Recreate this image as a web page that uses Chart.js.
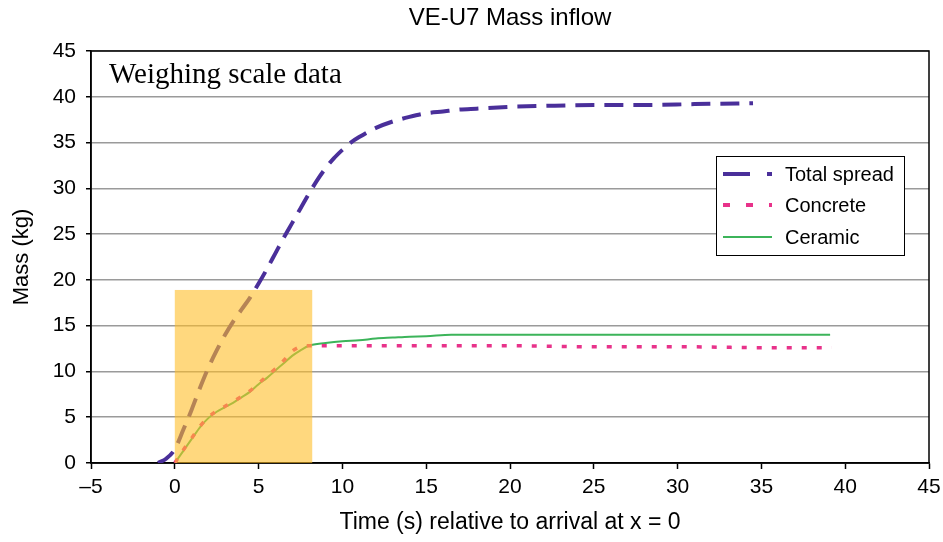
<!DOCTYPE html>
<html>
<head>
<meta charset="utf-8">
<title>VE-U7 Mass inflow</title>
<script src="https://cdn.jsdelivr.net/npm/chart.js@4.4.1/dist/chart.umd.min.js"></script>
<style>
  html, body { margin: 0; padding: 0; background: #fff; }
</style>
</head>
<body>
<canvas id="massChart" width="943" height="542"></canvas>
<script>
// ---- données (temps en s, masse en kg) ----
const spreadTime = [-1, -0.5, 0, 0.5, 1, 1.5, 2, 2.5, 3, 3.5, 4, 4.5, 5, 5.5, 6, 6.5, 7, 7.5, 8, 8.5, 9, 9.5, 10, 10.5, 11, 12, 13, 14, 15, 16, 17, 18, 20, 22, 25, 28, 31, 34.5];
const spreadMass = [0, 0.5, 1.5, 3.6, 5.8, 8.2, 10.4, 12.3, 14.0, 15.5, 16.8, 18.1, 19.6, 21.2, 22.9, 24.6, 26.2, 27.8, 29.4, 30.9, 32.2, 33.3, 34.2, 35.0, 35.6, 36.6, 37.3, 37.8, 38.2, 38.4, 38.6, 38.7, 38.9, 39.0, 39.1, 39.1, 39.2, 39.3];

const concreteTime = [0, 0.5, 1, 1.5, 2, 2.5, 3, 3.5, 4, 4.5, 5, 5.5, 6, 6.5, 7, 7.5, 8, 10, 15, 20, 25, 30, 35, 39.2];
const concreteMass = [0, 1.4, 2.7, 4.0, 5.0, 5.7, 6.2, 6.7, 7.3, 7.9, 8.7, 9.5, 10.3, 11.2, 12.2, 12.7, 12.8, 12.8, 12.8, 12.8, 12.7, 12.7, 12.6, 12.6];

const ceramicTime = [0, 0.5, 1, 1.5, 2, 2.5, 3, 3.5, 4, 4.5, 5, 5.5, 6, 6.5, 7, 7.5, 8, 9, 10, 11, 12, 13, 14, 15, 16.5, 20, 25, 30, 35, 39.1];
const ceramicMass = [0, 1.3, 2.6, 3.9, 4.9, 5.6, 6.1, 6.6, 7.2, 7.8, 8.6, 9.3, 10.1, 10.9, 11.7, 12.3, 12.8, 13.1, 13.3, 13.4, 13.6, 13.7, 13.8, 13.85, 14.0, 14.0, 14.0, 14.0, 14.0, 14.0];

// fenêtre surlignée en jaune
const windowTime = [0, 8.2];
const windowMass = [0, 18.9];

// axes
const xRange = [-5, 45];
const yRange = [0, 45];
const tickStep = 5;

const seriesNames = ['Total spread', 'Concrete', 'Ceramic'];
const SANS = '"Liberation Sans", Arial, sans-serif';

function toPoints(t, m) {
    return t.map((v, i) => ({ x: v, y: m[i] }));
}

// ---- plugins de dessin ----
const frame = {
    id: 'frame',
    beforeDatasetsDraw(chart) {
        const { ctx, chartArea: a } = chart;
        ctx.save();
        ctx.strokeStyle = '#000';
        ctx.lineWidth = 1.5;
        ctx.strokeRect(a.left, a.top, a.right - a.left, a.bottom - a.top);
        ctx.restore();
    }
};

const highlight = {
    id: 'highlight',
    afterDatasetsDraw(chart) {
        const { ctx, scales: { x, y } } = chart;
        const x0 = x.getPixelForValue(windowTime[0]), x1 = x.getPixelForValue(windowTime[1]);
        const y0 = y.getPixelForValue(windowMass[0]), y1 = y.getPixelForValue(windowMass[1]);
        ctx.save();
        ctx.fillStyle = 'rgba(255,190,40,0.6)';
        ctx.fillRect(x0, y1, x1 - x0, y0 - y1);
        ctx.restore();
    }
};

const boxLegend = {
    id: 'boxLegend',
    afterDraw(chart) {
        const { ctx, chartArea: a } = chart;
        const left = a.right - 213, top = a.top + 105, w = 188, h = 99;
        ctx.save();
        ctx.fillStyle = '#fff';
        ctx.fillRect(left, top, w, h);
        ctx.strokeStyle = '#000';
        ctx.lineWidth = 1;
        ctx.strokeRect(left + 0.5, top + 0.5, w, h);

        const rows = [18, 49, 81];
        const styles = [
            { color: '#4a2f9a', width: 4, dash: [27, 17, 6, 100] },
            { color: '#e8328a', width: 4, dash: [7, 16] },
            { color: '#3cb45a', width: 2, dash: [] }
        ];
        rows.forEach((dy, i) => {
            const yy = top + dy;
            ctx.strokeStyle = styles[i].color;
            ctx.lineWidth = styles[i].width;
            ctx.setLineDash(styles[i].dash);
            ctx.beginPath();
            ctx.moveTo(left + 7, yy);
            ctx.lineTo(left + 56, yy);
            ctx.stroke();
            ctx.setLineDash([]);
            ctx.fillStyle = '#000';
            ctx.font = '20px ' + SANS;
            ctx.textBaseline = 'middle';
            ctx.fillText(seriesNames[i], left + 69, yy + 1);
        });

        // note en haut à gauche
        ctx.font = '29px "Liberation Serif", "Times New Roman", serif';
        ctx.textBaseline = 'alphabetic';
        ctx.fillText('Weighing scale data', a.left + 18, a.top + 32);
        ctx.restore();
    }
};

// ---- graphique ----
new Chart(document.getElementById('massChart').getContext('2d'), {
    type: 'line',
    data: {
        datasets: [
            {
                label: seriesNames[0],
                data: toPoints(spreadTime, spreadMass),
                borderColor: '#4a2f9a',
                borderWidth: 4,
                borderDash: [19, 10],
                pointRadius: 0,
                cubicInterpolationMode: 'monotone',
                fill: false
            },
            {
                label: seriesNames[1],
                data: toPoints(concreteTime, concreteMass),
                borderColor: '#e8328a',
                borderWidth: 3.5,
                borderDash: [5, 10],
                pointRadius: 0,
                cubicInterpolationMode: 'monotone',
                fill: false
            },
            {
                label: seriesNames[2],
                data: toPoints(ceramicTime, ceramicMass),
                borderColor: '#3cb45a',
                borderWidth: 2,
                pointRadius: 0,
                cubicInterpolationMode: 'monotone',
                fill: false
            }
        ]
    },
    options: {
        responsive: false,
        animation: false,
        layout: { padding: { left: 0, right: 14, top: 0, bottom: 0 } },
        plugins: {
            legend: { display: false },
            tooltip: { enabled: false },
            title: {
                display: true,
                text: 'VE-U7 Mass inflow',
                fullSize: false,
                color: '#000',
                font: { family: SANS, size: 24, weight: 'normal' },
                padding: { top: 3.6, bottom: 18.6 }
            }
        },
        scales: {
            x: {
                type: 'linear',
                min: xRange[0],
                max: xRange[1],
                afterFit(scale) {
                    scale.height = 79;
                    scale.paddingLeft = 0;
                    scale.paddingRight = 0;
                },
                ticks: {
                    stepSize: tickStep,
                    color: '#000',
                    padding: 6,
                    maxRotation: 0,
                    font: { family: SANS, size: 21 },
                    callback: v => String(v).replace('-', '\u2013')
                },
                grid: { drawOnChartArea: false, tickLength: 6, tickColor: '#000', tickWidth: 1.5 },
                border: { color: '#000', width: 1.5 },
                title: {
                    display: true,
                    text: 'Time (s) relative to arrival at x = 0',
                    color: '#000',
                    font: { family: SANS, size: 23 },
                    padding: { top: 4, bottom: 6 }
                }
            },
            y: {
                min: yRange[0],
                max: yRange[1],
                afterFit(scale) { scale.width = 91; },
                ticks: {
                    stepSize: tickStep,
                    color: '#000',
                    padding: 10,
                    font: { family: SANS, size: 21 }
                },
                grid: { color: '#9a9a9a', lineWidth: 1.5, tickLength: 5, tickColor: '#000', tickWidth: 1.5 },
                border: { color: '#000', width: 1.5 },
                title: {
                    display: true,
                    text: 'Mass (kg)',
                    color: '#000',
                    font: { family: SANS, size: 22 },
                    padding: { top: 9, bottom: 0 }
                }
            }
        }
    },
    plugins: [frame, highlight, boxLegend]
});
</script>
</body>
</html>
